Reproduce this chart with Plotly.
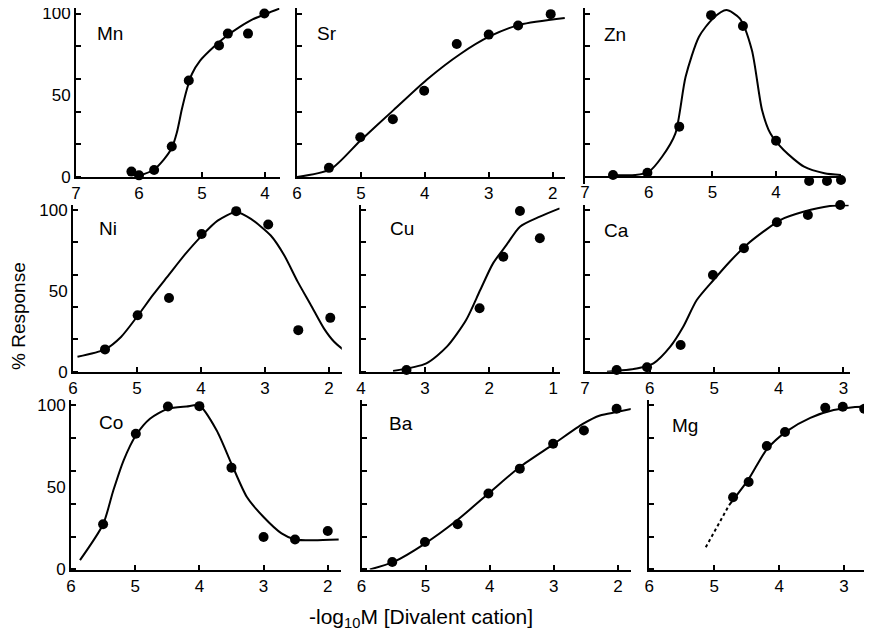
import plotly.graph_objects as go

# ---------------- data ----------------
mn_x = [6.12, 6.0, 5.76, 5.48, 5.21, 4.73, 4.59, 4.27, 4.01]
mn_y = [3.3, 1.0, 4.3, 18.7, 59, 80.5, 87.7, 87.7, 100]
mn_fx = [6.01, 5.77, 5.61, 5.48, 5.40, 5.32, 5.24, 5.16, 5.03, 4.82, 4.61, 4.40, 4.19, 3.97, 3.77]
mn_fy = [0.6, 4.3, 10.5, 17.7, 27, 41.4, 53.7, 63, 71.2, 79.4, 86.2, 91.8, 96.5, 100, 103]

sr_x = [5.50, 5.01, 4.50, 4.01, 3.50, 3.0, 2.54, 2.03]
sr_y = [5.6, 24.3, 35.3, 52.7, 81.3, 87.1, 92.7, 99.6]
sr_fx = [6.0, 5.48, 5.01, 4.49, 3.97, 3.45, 2.98, 2.51, 1.81]
sr_fy = [0, 4.6, 22.2, 40.9, 59.5, 75.1, 86.1, 93.2, 97.3]

zn_x = [6.56, 6.02, 5.52, 5.02, 4.52, 4.0, 3.48, 3.20, 2.98]
zn_y = [1.2, 2.6, 30.8, 99, 92.4, 22.2, -2.4, -2.4, -1.8]
zn_fx = [6.58, 6.21, 6.0, 5.79, 5.58, 5.42, 5.21, 4.99, 4.78, 4.57, 4.38, 4.22, 4.09, 3.88, 3.56, 3.24, 2.98]
zn_fy = [1.2, 1.2, 3.2, 12.4, 26.7, 61.3, 85.8, 97, 102.1, 97, 77.7, 41, 26.7, 16.5, 6.3, 2.3, 1.2]

ni_x = [5.50, 4.99, 4.50, 3.99, 3.45, 2.95, 2.48, 1.98]
ni_y = [13.8, 34.9, 45.6, 85.2, 99.3, 91, 25.7, 33.3]
ni_fx = [5.93, 5.5, 5.25, 4.99, 4.75, 4.5, 4.25, 3.99, 3.74, 3.45, 3.22, 2.91, 2.70, 2.49, 2.28, 2.08, 1.92, 1.77]
ni_fy = [9.2, 13.8, 21.5, 34.5, 47.5, 60, 72.5, 84, 93.4, 98.8, 94.5, 84.2, 72, 55.7, 41, 26.8, 18.5, 13.4]

cu_x = [3.29, 2.15, 1.78, 1.52, 1.21]
cu_y = [1.0, 39.2, 71.1, 99.4, 82.5]
cu_fx = [3.50, 2.98, 2.66, 2.36, 2.14, 1.94, 1.73, 1.52, 1.21, 0.90]
cu_fy = [0.5, 5.2, 15.5, 32, 50.5, 67, 78.4, 89.7, 95.9, 101]

ca_x = [6.51, 6.04, 5.52, 5.02, 4.54, 4.03, 3.55, 3.05]
ca_y = [1.0, 2.7, 16.5, 59.8, 76.3, 92.4, 96.9, 103.1]
ca_fx = [6.66, 6.2, 5.94, 5.68, 5.48, 5.27, 5.01, 4.76, 4.5, 4.24, 3.98, 3.62, 3.21, 2.92]
ca_fy = [0, 2, 5.2, 15.5, 27.8, 44.3, 56.7, 68, 78.4, 86.6, 93.8, 98.9, 102.5, 103]

co_x = [5.50, 4.99, 4.49, 4.0, 3.50, 3.0, 2.51, 2.0]
co_y = [27.6, 82.8, 99.4, 99.6, 62.1, 19.8, 18.3, 23.5]
co_fx = [5.86, 5.5, 5.34, 5.18, 4.99, 4.77, 4.49, 4.2, 4.0, 3.73, 3.5, 3.26, 3.0, 2.72, 2.51, 2.22, 1.83]
co_fy = [5.7, 27.6, 48.3, 66.6, 81.7, 91.9, 98, 99.4, 100, 84.8, 64.5, 44.2, 32, 22, 18.3, 17.8, 18.3]

ba_x = [5.52, 5.01, 4.50, 4.02, 3.53, 3.01, 2.53, 2.02]
ba_y = [4.6, 16.8, 27.6, 46.3, 61.5, 76.7, 84.8, 98]
ba_fx = [5.87, 5.5, 5.01, 4.51, 4.02, 3.53, 3.01, 2.54, 2.28, 2.02, 1.78]
ba_fy = [0, 4.6, 15.8, 30, 46.3, 62.5, 76.3, 88.9, 93.9, 96, 98]

mg_x = [4.71, 4.47, 4.19, 3.91, 3.29, 3.02, 2.69]
mg_y = [44, 53.4, 75.3, 83.8, 98.6, 99.2, 98]
mg_fx = [4.77, 4.47, 4.19, 3.88, 3.52, 3.16, 2.86, 2.57]
mg_fy = [39.3, 55.1, 73.3, 84.4, 92.5, 97.2, 99, 99.2]
mg_dx = [5.13, 4.77]
mg_dy = [13.6, 39.3]

names = ["Mn", "Sr", "Zn", "Ni", "Cu", "Ca", "Co", "Ba", "Mg"]
y_ticks = [0, 50, 100]
y_ticktext = ["0", "50", "100"]
y_minor = [0, 20, 40, 60, 80, 100]

panels = [
    (mn_x, mn_y, mn_fx, mn_fy, [7, 6, 5, 4]),
    (sr_x, sr_y, sr_fx, sr_fy, [6, 5, 4, 3, 2]),
    (zn_x, zn_y, zn_fx, zn_fy, [7, 6, 5, 4]),
    (ni_x, ni_y, ni_fx, ni_fy, [6, 5, 4, 3, 2]),
    (cu_x, cu_y, cu_fx, cu_fy, [4, 3, 2, 1]),
    (ca_x, ca_y, ca_fx, ca_fy, [7, 6, 5, 4, 3]),
    (co_x, co_y, co_fx, co_fy, [6, 5, 4, 3, 2]),
    (ba_x, ba_y, ba_fx, ba_fy, [6, 5, 4, 3, 2]),
    (mg_x, mg_y, mg_fx, mg_fy, [6, 5, 4, 3]),
]

# ---------------- layout geometry (pixels in the target picture) ----------------
W, H = 872, 637
OFF = 8  # the page body margin shifts the figure by 8 px; compensate
x_dom_px = [(76, 279.5), (297, 565.4), (585, 842.9),
            (73, 341.8), (361, 559.7), (585, 849.9),
            (71, 340.6), (361.5, 630.7), (649.3, 872)]
x_ranges = [(7, 3.77), (6, 1.8), (7, 2.95),
            (6, 1.8), (4, 0.9), (7, 2.9),
            (6, 1.8), (6, 1.8), (6, 2.57)]
row_zero = [177, 371.7, 569.5]
row_scale = [1.635, 1.617, 1.64]
Y_TOP = 103.3
y_bottoms = [0, 0, -4.5, 0, 0, 0, 0, 0, 0]   # Zn panel shows points slightly below 0
label_px = [(95, 33), (315, 33), (602, 35), (97, 228), (388, 229), (602, 230),
            (97, 422), (387, 423), (670, 425)]


def fx(p):
    return (p - OFF) / W


def fy(p):
    return 1 - (p - OFF) / H


FONT = "Liberation Sans, Arial, sans-serif"
fig = go.Figure()
layout = dict(width=W, height=H, margin=dict(l=0, r=0, t=0, b=0, autoexpand=False),
              paper_bgcolor="white", plot_bgcolor="white", showlegend=False,
              font=dict(family=FONT, color="black"))
annotations = []

for i, (px_, py_, fx_, fy_, xt) in enumerate(panels):
    k = i + 1
    sfx = "" if k == 1 else str(k)
    row = i // 3
    col = i % 3
    xa, ya = "x" + sfx, "y" + sfx
    fig.add_trace(go.Scatter(x=fx_, y=fy_, mode="lines", xaxis=xa, yaxis=ya,
                             line=dict(color="black", width=2, shape="spline", smoothing=0.7),
                             hoverinfo="skip"))
    fig.add_trace(go.Scatter(x=px_, y=py_, mode="markers", xaxis=xa, yaxis=ya,
                             marker=dict(color="black", size=10), cliponaxis=False))
    x0, x1 = x_dom_px[i]
    z, s = row_zero[row], row_scale[row]
    yb = y_bottoms[i]
    pix_bot = z - yb * s
    pix_top = z - Y_TOP * s
    xaxis = dict(
        domain=[max(fx(x0), 0), min(fx(x1), 1.0)], range=list(x_ranges[i]), anchor=ya,
        automargin=False, ticklabeloverflow="allow",
        showline=True, linecolor="black", linewidth=2, showgrid=False, zeroline=False,
        tickmode="array", tickvals=xt, ticktext=[str(v) for v in xt],
        ticks="inside", ticklen=5, tickwidth=1.5, tickcolor="black",
        tickfont=dict(size=17, family=FONT, color="black"))
    if yb != 0:
        xaxis["anchor"] = "free"
        xaxis["position"] = fy(z)
    layout["xaxis" + sfx] = xaxis
    layout["yaxis" + sfx] = dict(
        domain=[max(fy(pix_bot), 0), min(fy(pix_top), 1.0)], range=[yb, Y_TOP], anchor=xa,
        automargin=False, ticklabeloverflow="allow",
        showline=True, linecolor="black", linewidth=2, showgrid=False, zeroline=False,
        tickmode="array", tickvals=y_ticks, ticktext=y_ticktext, ticks="",
        showticklabels=(col == 0),
        minor=dict(tickmode="array", tickvals=y_minor, ticks="inside", ticklen=5,
                   tickwidth=1.5, tickcolor="black"),
        tickfont=dict(size=17, family=FONT, color="black"))
    lx, ly = label_px[i]
    annotations.append(dict(text=names[i], x=fx(lx), y=fy(ly), xref="paper", yref="paper",
                            xanchor="left", yanchor="middle", showarrow=False,
                            font=dict(size=19, family=FONT, color="black")))

# dotted extrapolation for Mg
fig.add_trace(go.Scatter(x=mg_dx, y=mg_dy, mode="lines", xaxis="x9", yaxis="y9",
                         line=dict(color="black", width=2, dash="dot"), hoverinfo="skip"))

annotations.append(dict(text="% Response", x=fx(18), y=fy(316), xref="paper", yref="paper",
                        textangle=-90, showarrow=False, xanchor="center", yanchor="middle",
                        font=dict(size=19, family=FONT, color="black")))
annotations.append(dict(text="-log<sub>10</sub>M [Divalent cation]", x=fx(421), y=fy(618),
                        xref="paper", yref="paper", showarrow=False,
                        xanchor="center", yanchor="middle",
                        font=dict(size=21, family=FONT, color="black")))
layout["annotations"] = annotations
fig.update_layout(**layout)
fig.write_html("out.html")
